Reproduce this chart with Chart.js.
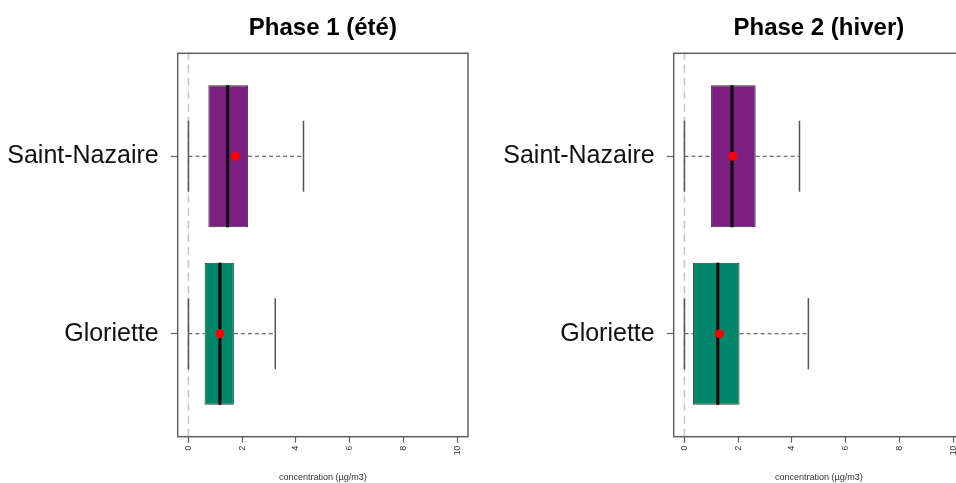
<!DOCTYPE html>
<html>
<head>
<meta charset="utf-8">
<script src="https://cdn.jsdelivr.net/npm/chart.js@4/dist/chart.umd.min.js"></script>
<style>
  html, body { margin:0; padding:0; background:#fff; width:956px; height:483px; overflow:hidden; position:relative; }
  canvas { position:absolute; top:0; }
  #c1 { left:0; }
  #c2 { left:496px; }
</style>
</head>
<body>
<canvas id="c1" width="478" height="483"></canvas>
<canvas id="c2" width="478" height="483"></canvas>
<script>
// ---- data ----
const sites = ['Saint-Nazaire', 'Gloriette'];
const sitePositions = [2, 1];
const siteColors = ['#7b1f80', '#00876a'];
const xTicks = [0, 2, 4, 6, 8, 10];

const phase1Title = 'Phase 1 (été)';
const phase1Min    = [0.00, 0.00];
const phase1Q1     = [0.74, 0.60];
const phase1Median = [1.46, 1.17];
const phase1Q3     = [2.22, 1.69];
const phase1Max    = [4.28, 3.23];
const phase1Mean   = [1.75, 1.17];

const phase2Title = 'Phase 2 (hiver)';
const phase2Min    = [0.00, 0.00];
const phase2Q1     = [0.99, 0.32];
const phase2Median = [1.77, 1.24];
const phase2Q3     = [2.65, 2.05];
const phase2Max    = [4.28, 4.61];
const phase2Mean   = [1.80, 1.30];

const FONT = "'Liberation Sans', Arial, sans-serif";
const BOX_HALF = 0.4, CAP_HALF = 0.2;
const Y_MIN = 0.42, Y_MAX = 2.58;

const framePlugin = {
  id: 'frame',
  afterDraw(chart) {
    const {ctx, chartArea: a} = chart;
    ctx.save();
    ctx.strokeStyle = '#606060';
    ctx.lineWidth = 1.5;
    ctx.strokeRect(a.left, a.top, a.right - a.left, a.bottom - a.top);
    ctx.restore();
  }
};

function seg(pts, opts) {
  return Object.assign({
    type: 'line', data: pts, pointRadius: 0, pointHoverRadius: 0,
    fill: false, tension: 0, borderWidth: 1, borderColor: '#444'
  }, opts);
}

function makeChart(id, title, mins, q1, med, q3, maxs, means) {
  const datasets = [];
  datasets.push(seg([{x:0, y:Y_MIN}, {x:0, y:Y_MAX}],
    {borderColor:'#c4c4c4', borderWidth:1.5, borderDash:[8,5], order:10}));
  datasets.push({
    type: 'bar', indexAxis: 'y',
    data: sites.map((s, i) => ({x:[q1[i], q3[i]], y: sitePositions[i]})),
    backgroundColor: siteColors, borderColor: '#333', borderWidth: 1,
    borderSkipped: false, barPercentage: 0.8, categoryPercentage: 1, order: 5
  });
  sites.forEach((s, i) => {
    const p = sitePositions[i];
    datasets.push(seg([{x:mins[i], y:p}, {x:q1[i], y:p}], {borderDash:[4,3], borderWidth:1.2, order:6}));
    datasets.push(seg([{x:q3[i], y:p}, {x:maxs[i], y:p}], {borderDash:[4,3], borderWidth:1.2, order:6}));
    datasets.push(seg([{x:mins[i], y:p-CAP_HALF}, {x:mins[i], y:p+CAP_HALF}], {borderColor:'#555', borderWidth:1.5, order:4}));
    datasets.push(seg([{x:maxs[i], y:p-CAP_HALF}, {x:maxs[i], y:p+CAP_HALF}], {borderColor:'#555', borderWidth:1.5, order:4}));
    datasets.push(seg([{x:med[i], y:p-BOX_HALF}, {x:med[i], y:p+BOX_HALF}], {borderColor:'#000', borderWidth:3, order:2}));
  });
  datasets.push({
    type: 'scatter', data: sites.map((s, i) => ({x: means[i], y: sitePositions[i]})),
    pointRadius: 4.5, pointBackgroundColor: '#ff0000', pointBorderColor: '#ff0000',
    pointBorderWidth: 0, showLine: false, order: 1
  });

  return new Chart(document.getElementById(id), {
    type: 'bar',
    data: { datasets },
    options: {
      responsive: false, animation: false, devicePixelRatio: 1,
      layout: { padding: { left: 0, right: 10, top: 0, bottom: 0 } },
      plugins: {
        legend: { display: false }, tooltip: { enabled: false },
        title: {
          display: true, text: title, fullSize: false, color: '#000',
          font: { family: FONT, size: 24, weight: 'bold', lineHeight: 1.2 },
          padding: { top: 14, bottom: 10.5 }
        }
      },
      scales: {
        x: {
          type: 'linear', position: 'bottom', min: -0.4, max: 10.4, offset: false,
          afterBuildTicks: (sc) => { sc.ticks = xTicks.map(v => ({value: v})); },
          afterFit: (sc) => { sc.height = 46.3; },
          ticks: { font: { family: FONT, size: 8.5 }, color: '#333', minRotation: 90, maxRotation: 90, padding: 3, autoSkip: false },
          grid: { offset: false, drawOnChartArea: false, drawTicks: true, tickLength: 6, color: '#606060', tickColor: '#606060', tickWidth: 1.2 },
          border: { display: false },
          title: { display: true, text: 'concentration (µg/m3)', color: '#333', font: { family: FONT, size: 9, lineHeight: 1.2 }, padding: { top: 0, bottom: 0 } }
        },
        y: {
          type: 'linear', position: 'left', min: Y_MIN, max: Y_MAX, offset: false,
          afterBuildTicks: (sc) => { sc.ticks = sitePositions.map(v => ({value: v})); },
          afterFit: (sc) => { sc.width = 177.7; },
          ticks: {
            font: { family: FONT, size: 25 }, color: '#111', padding: 12, autoSkip: false,
            callback: (v) => { const i = sitePositions.indexOf(v); return i >= 0 ? sites[i] : ''; }
          },
          grid: { offset: false, drawOnChartArea: false, drawTicks: true, tickLength: 7, color: '#606060', tickColor: '#606060', tickWidth: 1.2 },
          border: { display: false }
        }
      }
    },
    plugins: [framePlugin]
  });
}

makeChart('c1', phase1Title, phase1Min, phase1Q1, phase1Median, phase1Q3, phase1Max, phase1Mean);
makeChart('c2', phase2Title, phase2Min, phase2Q1, phase2Median, phase2Q3, phase2Max, phase2Mean);
</script>
</body>
</html>
